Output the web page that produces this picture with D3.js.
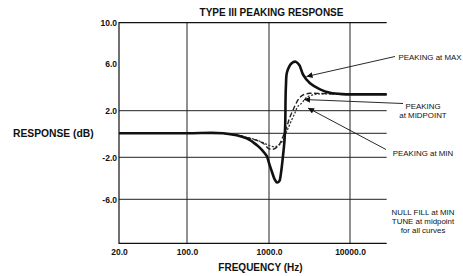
<!DOCTYPE html>
<html>
<head>
<meta charset="utf-8">
<script src="https://cdn.jsdelivr.net/npm/d3@7"></script>
<style>
  body { margin: 0; background: #fff; }
  svg { display: block; font-family: "Liberation Sans", Arial, Helvetica, sans-serif; }
  .bold { font-weight: bold; }
</style>
</head>
<body>
<div class="chart"></div>
<script>
// tick values / labels
var yTicks = [10, 6, 2, -2, -6];
var yGrid = [2, 0, -2, -6];
var xTicks = [20, 100, 1000, 10000];
var xGrid = [100, 1000, 10000];

// curves as [frequency Hz, response dB]
var peakMax = [[20,0],[100,0],[275,0],[534,-0.42],[708,-0.98],[820,-1.39],[937,-1.89],[1000,-2.54],
  [1089,-3.4],[1170,-4.07],[1255,-4.4],[1343,-4.26],[1400,-3.6],[1470,-2.26],[1555,-0.55],
  [1590,1.18],[1600,2.92],[1620,4.2],[1670,5.3],[1906,6.07],[2136,6.22],[2366,5.91],
  [2650,5.06],[3210,4.35],[4270,3.83],[5660,3.54],[8000,3.42],[12000,3.4],[28400,3.4]];

var peakMid = [[20,0],[100,0],[275,0],[587,-0.42],[844,-0.83],[980,-1.25],[1089,-1.35],
  [1220,-1.22],[1367,-0.83],[1500,-0.22],[1654,0.56],[1800,1.38],[1980,2.06],[2140,2.57],
  [2350,3.05],[2640,3.35],[3210,3.49],[4500,3.47],[8000,3.42],[28400,3.4]];

var peakMin = [[20,0],[100,0],[275,0],[587,-0.4],[820,-0.73],[980,-0.98],[1186,-1.12],
  [1330,-0.98],[1500,-0.56],[1620,0.03],[1720,0.44],[1906,1.18],[2080,1.78],[2290,2.4],
  [2520,2.63],[2780,3.0],[3020,3.2],[3490,3.35],[4050,3.43],[6500,3.45],[28400,3.4]];

var margin = {top: 22.7, left: 119},
    width = 267.7,
    height = 220.6;

var svg = d3.select(".chart")
    .append("svg")
    .attr("width", 463)
    .attr("height", 276);

svg.append("defs").append("marker")
    .attr("id", "arrow")
    .attr("viewBox", "0 0 10 10")
    .attr("refX", 10).attr("refY", 5)
    .attr("markerWidth", 7).attr("markerHeight", 6)
    .attr("markerUnits", "userSpaceOnUse")
    .attr("orient", "auto")
    .append("path")
    .attr("d", "M0,0 L10,5 L0,10 z")
    .attr("fill", "#111");

var g = svg.append("g")
    .attr("transform", "translate(" + margin.left + "," + margin.top + ")");

// hand-drawn original: decades are not evenly spaced, so piecewise scales
var x = d3.scaleLog()
    .domain([20, 100, 1000, 10000, 28400])
    .range([0, 68, 150, 231, width]);

var y = d3.scaleLinear()
    .domain([10, 6, 2, 0, -2, -6, -10])
    .range([0, 41.3, 88, 110.6, 134.6, 176.6, height]);

// grid lines
g.selectAll(".hgrid").data(yGrid).enter().append("line")
    .attr("x1", 0).attr("x2", width)
    .attr("y1", d => y(d)).attr("y2", d => y(d))
    .attr("stroke", "#222").attr("stroke-width", 1);

g.selectAll(".vgrid").data(xGrid).enter().append("line")
    .attr("x1", d => x(d)).attr("x2", d => x(d))
    .attr("y1", 0).attr("y2", height)
    .attr("stroke", "#222").attr("stroke-width", 1);

// frame: left, top, bottom
g.append("path")
    .attr("d", "M" + width + ",0 H0 V" + height + " H" + width)
    .attr("fill", "none")
    .attr("stroke", "#111")
    .attr("stroke-width", 1.2);

// axes (labels only)
var yAxis = g.append("g")
    .call(d3.axisLeft(y).tickValues(yTicks).tickSize(0).tickPadding(2)
        .tickFormat(d => d.toFixed(1)));
var xAxis = g.append("g")
    .attr("transform", "translate(0," + height + ")")
    .call(d3.axisBottom(x).tickValues(xTicks).tickSize(0).tickPadding(6)
        .tickFormat(d => d.toFixed(1)));
[yAxis, xAxis].forEach(function(a) {
    a.select(".domain").remove();
    a.selectAll("text")
        .attr("class", "bold")
        .style("font-family", "'Liberation Sans', Arial, sans-serif")
        .style("font-size", "8.5px")
        .attr("fill", "#111");
});

// curves
var line = d3.line()
    .x(d => x(d[0]))
    .y(d => y(d[1]))
    .curve(d3.curveCatmullRom.alpha(0.5));

g.append("path").datum(peakMin)
    .attr("d", line).attr("fill", "none")
    .attr("stroke", "#333").attr("stroke-width", 1.3)
    .attr("stroke-dasharray", "2,1.6");

g.append("path").datum(peakMid)
    .attr("d", line).attr("fill", "none")
    .attr("stroke", "#222").attr("stroke-width", 1.4)
    .attr("stroke-dasharray", "5,2.5");

g.append("path").datum(peakMax)
    .attr("d", line).attr("fill", "none")
    .attr("stroke", "#111").attr("stroke-width", 2.6)
    .attr("stroke-linejoin", "round");

// titles
svg.append("text")
    .attr("class", "bold")
    .attr("x", 271.5).attr("y", 16)
    .attr("text-anchor", "middle")
    .style("font-size", "10px")
    .attr("fill", "#111")
    .text("TYPE III PEAKING RESPONSE");

svg.append("text")
    .attr("class", "bold")
    .attr("x", 13).attr("y", 137)
    .style("font-size", "10.3px")
    .attr("fill", "#111")
    .text("RESPONSE (dB)");

svg.append("text")
    .attr("class", "bold")
    .attr("x", 260.5).attr("y", 271)
    .attr("text-anchor", "middle")
    .style("font-size", "10px")
    .attr("fill", "#111")
    .text("FREQUENCY (Hz)");

// annotations with arrows
var notes = [
    {lines: ["PEAKING at MAX"], x: 430, y: 60, from: [395, 56.5], to: [306.5, 76.5]},
    {lines: ["PEAKING", "at MIDPOINT"], x: 423, y: 108.5, from: [403, 103.5], to: [304, 99.5]},
    {lines: ["PEAKING at MIN"], x: 423, y: 155.5, from: [386, 149.5], to: [308, 108]},
    {lines: ["NULL FILL at MIN", "TUNE at midpoint", "for all curves"], x: 423, y: 215}
];

notes.forEach(function(n) {
    if (n.from) {
        svg.append("line")
            .attr("x1", n.from[0]).attr("y1", n.from[1])
            .attr("x2", n.to[0]).attr("y2", n.to[1])
            .attr("stroke", "#111").attr("stroke-width", 0.9)
            .attr("marker-end", "url(#arrow)");
    }
    n.lines.forEach(function(s, i) {
        svg.append("text")
            .attr("text-anchor", "middle")
            .attr("x", n.x).attr("y", n.y + i * 9)
            .style("font-size", "7.9px")
            .attr("fill", "#111")
            .text(s);
    });
});
</script>
</body>
</html>
